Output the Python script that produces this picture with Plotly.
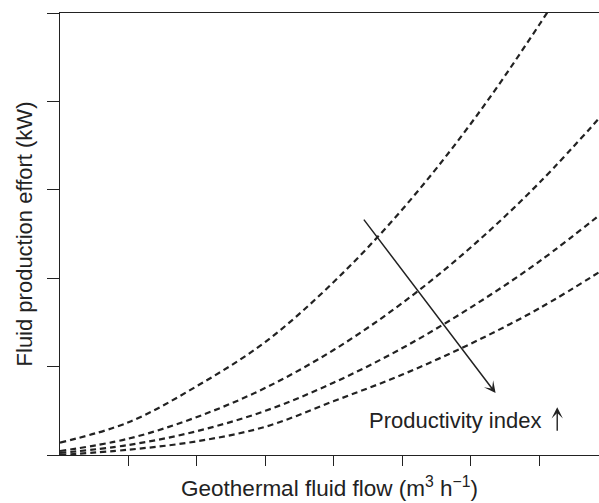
import plotly.graph_objects as go

# Data (arbitrary units, no tick labels shown)
flow = [0, 1, 2, 3, 4, 5, 6, 7, 8]
effort_pi1 = [0.14, 0.37, 0.78, 1.28, 1.96, 2.78, 3.75, 4.87, 6.10]
effort_pi2 = [0.045, 0.185, 0.43, 0.76, 1.19, 1.72, 2.35, 3.08, 3.92]
effort_pi3 = [0.023, 0.113, 0.27, 0.50, 0.82, 1.21, 1.67, 2.19, 2.79]
effort_pi4 = [0.0, 0.06, 0.155, 0.32, 0.61, 0.91, 1.26, 1.66, 2.13]

x_ticks = [1, 2, 3, 4, 5, 6, 7]
y_ticks = [0, 1, 2, 3, 4, 5]

arrow_start = (4.42, 2.68)
arrow_end = (6.36, 0.70)
label_pos = (4.48, 0.39)
label_text = "Productivity index"
small_arrow_tip = (7.26, 0.54)

x_title = "Geothermal fluid flow (m<sup>3</sup> h<sup>\u22121</sup>)"
y_title = "Fluid production effort (kW)"

INK = "#222222"
FONT = "Liberation Sans, Arial, Helvetica, sans-serif"

fig = go.Figure()
for ys in (effort_pi1, effort_pi2, effort_pi3, effort_pi4):
    fig.add_trace(go.Scatter(
        x=flow, y=ys, mode="lines", line_shape="spline",
        line=dict(color=INK, width=2.2, dash="6px,4px"),
        showlegend=False, hoverinfo="skip", cliponaxis=True,
    ))

fig.add_annotation(
    x=arrow_end[0], y=arrow_end[1], ax=arrow_start[0], ay=arrow_start[1],
    xref="x", yref="y", axref="x", ayref="y",
    showarrow=True, arrowhead=3, arrowsize=1.3, arrowwidth=1.5,
    arrowcolor=INK, text="",
)
fig.add_annotation(
    x=label_pos[0], y=label_pos[1], xref="x", yref="y",
    xanchor="left", yanchor="middle", showarrow=False,
    text=label_text, font=dict(family=FONT, size=22, color=INK),
)
fig.add_annotation(
    x=small_arrow_tip[0], y=small_arrow_tip[1], xref="x", yref="y",
    ax=0, ay=25, showarrow=True, arrowhead=3, arrowsize=1.35,
    arrowwidth=1.4, arrowcolor=INK, text="",
)

fig.update_layout(
    width=599, height=503,
    margin=dict(l=60, r=0, t=13, b=48),
    paper_bgcolor="white", plot_bgcolor="white",
    font=dict(family=FONT, size=22, color=INK),
    xaxis=dict(
        range=[0, 7.87], showgrid=False, zeroline=False,
        showline=True, linecolor=INK, linewidth=1.2, mirror=True,
        ticks="outside", ticklen=10, tickwidth=1.2, tickcolor=INK,
        tickvals=x_ticks, showticklabels=False,
        title=dict(text=x_title, standoff=15, font=dict(size=22.5)),
    ),
    yaxis=dict(
        range=[0, 5], showgrid=False, zeroline=False,
        showline=True, linecolor=INK, linewidth=1.2,
        ticks="outside", ticklen=12, tickwidth=1.2, tickcolor=INK,
        tickvals=y_ticks, showticklabels=False,
        title=dict(text=y_title, standoff=8, font=dict(size=22)),
    ),
)

fig.write_html("out.html")
